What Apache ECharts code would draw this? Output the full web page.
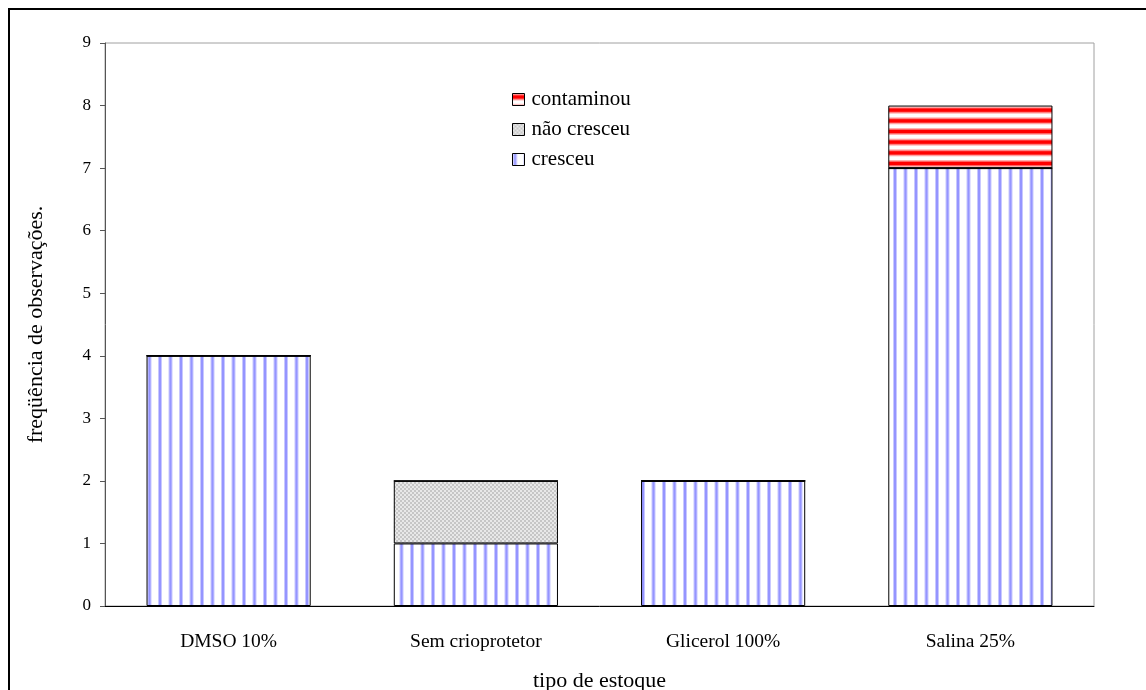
<!DOCTYPE html>
<html>
<head>
<meta charset="utf-8">
<script src="https://cdn.jsdelivr.net/npm/echarts@6/dist/echarts.min.js"></script>
<style>
html,body{margin:0;padding:0;background:#fff;}
#chart{width:1146px;height:690px;}
</style>
</head>
<body>
<div id="chart"></div>
<script>
const categories = ['DMSO 10%', 'Sem crioprotetor', 'Glicerol 100%', 'Salina 25%'];
const cresceu = [4, 1, 2, 7];
const naoCresceu = [0, 1, 0, 0];
const contaminou = [0, 0, 0, 1];
const yTicks = [0, 1, 2, 3, 4, 5, 6, 7, 8, 9];

function blueStripes() {
  const c = document.createElement('canvas');
  c.width = 21; c.height = 4;
  const g = c.getContext('2d');
  g.fillStyle = '#ffffff'; g.fillRect(0, 0, 21, 4);
  [0, 10.5].forEach(function (x0) {
    g.fillStyle = '#c8c8ff'; g.fillRect(x0 + 0.5, 0, 4, 4);
    g.fillStyle = '#9595ff'; g.fillRect(x0 + 1.5, 0, 2, 4);
  });
  return c;
}
function redStripes() {
  const c = document.createElement('canvas');
  c.width = 4; c.height = 32;
  const g = c.getContext('2d');
  g.fillStyle = '#ffffff'; g.fillRect(0, 0, 4, 32);
  [0, 32 / 3, 64 / 3].forEach(function (y0) {
    g.fillStyle = '#ffb0b0'; g.fillRect(0, y0, 4, 7);
    g.fillStyle = '#ff5050'; g.fillRect(0, y0 + 1.2, 4, 4.6);
    g.fillStyle = '#ff0000'; g.fillRect(0, y0 + 2, 4, 3);
  });
  return c;
}
function checker() {
  const c = document.createElement('canvas');
  c.width = 4; c.height = 4;
  const g = c.getContext('2d');
  g.fillStyle = '#e8e8e8'; g.fillRect(0, 0, 4, 4);
  g.fillStyle = '#c6c6c6'; g.fillRect(0, 0, 2, 2); g.fillRect(2, 2, 2, 2);
  return c;
}

const chart = echarts.init(document.getElementById('chart'), null, {renderer: 'canvas'});
const font = 'Liberation Serif';
const barStyle = function (img) {
  return {color: {image: img, repeat: 'repeat'}, borderColor: '#000', borderWidth: 1};
};
chart.setOption({
  backgroundColor: '#fff',
  animation: false,
  textStyle: {fontFamily: font},
  graphic: [{
    type: 'rect',
    shape: {x: 9, y: 9, width: 1160, height: 700},
    style: {fill: 'none', stroke: '#000', lineWidth: 2},
    z: 100, silent: true
  }],
  grid: {left: 105, top: 43, right: 52, bottom: 84, show: true, borderColor: '#a0a0a0', borderWidth: 1,
         backgroundColor: 'transparent', containLabel: false, outerBoundsMode: 'none'},
  legend: {
    orient: 'vertical', left: 512, top: 89, padding: 0,
    icon: 'rect',
    itemWidth: 12, itemHeight: 12, itemGap: 9,
    data: ['contaminou', 'não cresceu', 'cresceu'],
    textStyle: {fontFamily: font, fontSize: 21, color: '#000', lineHeight: 20, padding: [0, 0, 0, 2]},
    itemStyle: {borderColor: '#000', borderWidth: 1}
  },
  xAxis: {
    type: 'category', data: categories,
    name: 'tipo de estoque', nameLocation: 'middle', nameGap: 64,
    nameTextStyle: {fontFamily: font, fontSize: 22, color: '#000'},
    axisLine: {lineStyle: {color: '#000', width: 1}},
    axisTick: {show: false},
    axisLabel: {fontFamily: font, fontSize: 19.5, color: '#000', margin: 26}
  },
  yAxis: {
    type: 'value', min: yTicks[0], max: yTicks[yTicks.length - 1], interval: 1,
    name: 'freqüência de observações.', nameLocation: 'middle', nameGap: 58, nameRotate: 90,
    nameTextStyle: {fontFamily: font, fontSize: 22, color: '#000'},
    axisLine: {show: true, lineStyle: {color: '#555', width: 1}},
    axisTick: {show: true, length: 5, lineStyle: {color: '#555'}},
    splitLine: {show: false},
    axisLabel: {fontFamily: font, fontSize: 17, color: '#000', margin: 14}
  },
  series: [
    {name: 'cresceu', type: 'bar', stack: 's', data: cresceu, barCategoryGap: '33.6%', itemStyle: barStyle(blueStripes())},
    {name: 'não cresceu', type: 'bar', stack: 's', data: naoCresceu, itemStyle: barStyle(checker())},
    {name: 'contaminou', type: 'bar', stack: 's', data: contaminou, itemStyle: barStyle(redStripes())}
  ]
});
</script>
</body>
</html>
